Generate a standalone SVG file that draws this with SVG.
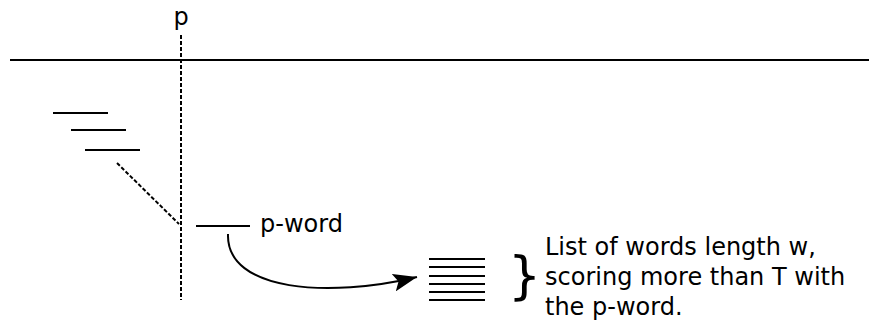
<svg xmlns="http://www.w3.org/2000/svg" width="869" height="325" viewBox="0 0 869 325">
<style>
.ln{stroke:#000;stroke-width:2;fill:none}
.ds{stroke:#000;stroke-width:2;fill:none;stroke-dasharray:4,2}
.t{font-family:"DejaVu Sans",sans-serif;font-size:24px;fill:#000}
</style>
<defs>
<marker id="ah2" viewBox="0 0 24 18" refX="24" refY="9" markerWidth="24" markerHeight="18" orient="auto" markerUnits="userSpaceOnUse">
<path d="M0,0 L24,9 L0,18 L5,9 z" fill="#000"/>
</marker>
</defs>
<rect width="869" height="325" fill="#fff"/>
<g id="axis">
<line class="ln" x1="10" y1="60" x2="869" y2="60"/>
<line class="ds" x1="181" y1="35" x2="181" y2="300"/>
<text class="t" x="181" y="25" text-anchor="middle">p</text>
</g>
<g id="words">
<line class="ln" x1="53" y1="113" x2="108" y2="113"/>
<line class="ln" x1="71" y1="130" x2="126" y2="130"/>
<line class="ln" x1="85" y1="150" x2="140" y2="150"/>
</g>
<g id="pword">
<line class="ln" x1="196" y1="226" x2="250" y2="226"/>
<text class="t" x="260" y="232">p-word</text>
</g>
<g id="list">
<line class="ln" x1="429" y1="259" x2="485" y2="259"/>
<line class="ln" x1="429" y1="267" x2="485" y2="267"/>
<line class="ln" x1="429" y1="276" x2="485" y2="276"/>
<line class="ln" x1="429" y1="284" x2="485" y2="284"/>
<line class="ln" x1="429" y1="292" x2="485" y2="292"/>
<line class="ln" x1="429" y1="300" x2="485" y2="300"/>
<text x="508" y="293" style="font-family:'DejaVu Sans',sans-serif;font-size:52px">}</text>
</g>
<g id="desc">
<text class="t" x="545" y="255">List of words length w,</text>
<text class="t" x="545" y="285">scoring more than T with</text>
<text class="t" x="545" y="315">the p-word.</text>
</g>
<g id="connectors">
<line class="ds" x1="117" y1="163" x2="179" y2="224"/>
<path class="ln" d="M228,234 C226,292 330,298 417,277" marker-end="url(#ah2)"/>
</g>
</svg>
